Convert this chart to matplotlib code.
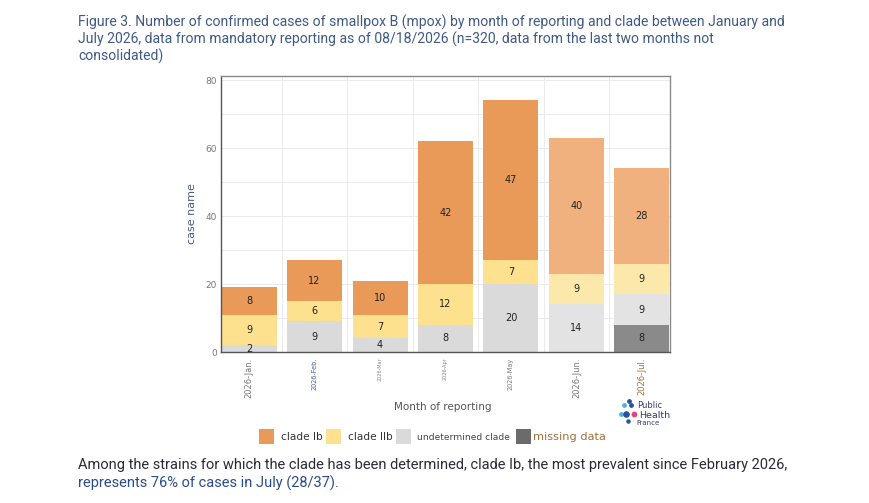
import matplotlib.pyplot as plt
from matplotlib.patches import Rectangle

W, H = 870, 503

months = ["2026-Jan.", "2026-Feb.", "2026-Mar", "2026-Apr", "2026-May", "2026-Jun.", "2026-Jul."]
missing = [0, 0, 0, 0, 0, 0, 8]
undetermined = [2, 9, 4, 8, 20, 14, 9]
clade_iib = [9, 6, 7, 12, 7, 9, 9]
clade_ib = [8, 12, 10, 42, 47, 40, 28]

# last two months not consolidated -> lighter shades
c_ib = ["#E99A58"] * 5 + ["#F0B17F"] * 2
c_iib = ["#FDE18F"] * 5 + ["#FDE8AC"] * 2
c_und = ["#DADADA"] * 5 + ["#E3E3E3"] * 2
c_mis = ["#6B6B6B"] * 5 + ["#8A8A8A"] * 2

tick_size = [6, 4.7, 3.5, 3.5, 4.7, 6, 6]
tick_color = ["#777777", "#3D5F96", "#888888", "#888888", "#777777", "#777777", "#A0703E"]


def px(x, y):
    return x / W, 1 - y / H


fig = plt.figure(figsize=(W / 100, H / 100), dpi=100)
fig.patch.set_facecolor("white")
ax = fig.add_axes([221 / W, 1 - 352 / H, (670 - 221) / W, (352 - 76) / H])

x = list(range(len(months)))
bw = 0.84
bottom = [0] * len(x)
for vals, cols in [(missing, c_mis), (undetermined, c_und), (clade_iib, c_iib), (clade_ib, c_ib)]:
    ax.bar(x, vals, bw, bottom=bottom, color=cols, zorder=2, linewidth=0)
    for i, v in enumerate(vals):
        if v:
            ax.text(i, bottom[i] + v / 2, str(v), ha="center", va="center",
                    fontsize=7, color="#222222", zorder=3)
    bottom = [b + v for b, v in zip(bottom, vals)]

ax.set_xlim(-0.43, 6.43)
ax.set_ylim(0, 81.2)
ax.set_yticks([0, 20, 40, 60, 80])
ax.set_yticks([10, 30, 50, 70], minor=True)
ax.grid(axis="y", which="both", color="#EBEBEB", lw=0.7, zorder=0)
for k in range(6):
    ax.axvline(k + 0.5, color="#EBEBEB", lw=0.7, zorder=0)
ax.tick_params(axis="y", labelsize=6.5, labelcolor="#777777", length=0, pad=3)
ax.tick_params(axis="y", which="minor", length=0)
ax.set_xticks(x)
ax.set_xticklabels(months, rotation=90)
ax.tick_params(axis="x", length=0, pad=4)
for lab, s, c in zip(ax.get_xticklabels(), tick_size, tick_color):
    lab.set_fontsize(s)
    lab.set_color(c)
for sp in ax.spines.values():
    sp.set_color("#8A8A8A")
    sp.set_linewidth(1.0)
ax.spines["left"].set_color("#555555")
ax.spines["bottom"].set_color("#555555")
ax.set_ylabel("case name", fontsize=8, color="#4A5B7C", labelpad=6)

# title
title_col = "#3F5A85"
fig.text(*px(78, 22), "Figure 3. Number of confirmed cases of smallpox B (mpox) by month of reporting and clade between January and",
         fontsize=10.05, color=title_col, va="center", family="Roboto")
fig.text(*px(78, 39), "July 2026, data from mandatory reporting as of 08/18/2026 (n=320, data from the last two months not",
         fontsize=10.05, color=title_col, va="center", family="Roboto")
fig.text(*px(78, 56), "consolidated)", fontsize=10.05, color=title_col, va="center", family="Roboto")

fig.text(*px(443, 407), "Month of reporting", fontsize=7.5, color="#555555", ha="center", va="center")

# legend
leg = [(259, "#E99A58", 281, "clade Ib", 7.6, "#333333"),
       (326, "#FDE18F", 348, "clade IIb", 7.6, "#333333"),
       (396, "#DADADA", 417, "undetermined clade", 6.6, "#444444"),
       (516, "#6B6B6B", 533, "missing data", 8.2, "#A0703E")]
for x0, col, tx, lab, fs, tc in leg:
    fig.patches.append(Rectangle(px(x0, 444), 15 / W, 15 / H, transform=fig.transFigure,
                                 facecolor=col, edgecolor="none"))
    fig.text(*px(tx, 437.5), lab, fontsize=fs, color=tc, va="center")

# logo
dots = [(624, 405, "#4FB3D9", 6), (629, 401, "#2D4E9E", 6), (631, 405, "#2D4E9E", 6),
        (621, 414, "#4FB3D9", 6), (626, 414, "#2D4E9E", 14), (634, 414, "#E0457B", 10),
        (628, 421, "#2D4E9E", 5)]
for dx, dy, dc, ds in dots:
    fig.add_artist(plt.Line2D([dx / W], [1 - dy / H], marker="o", ms=ds ** 0.5, color=dc,
                              transform=fig.transFigure, lw=0))
fig.text(*px(637, 406), "Public", fontsize=6, color="#2D3E6E", va="center")
fig.text(*px(639, 415), "Health", fontsize=6.8, color="#2D3E6E", va="center")
fig.text(*px(636, 423), "France", fontsize=5, color="#2D3E6E", va="center")

# footer
fig.text(*px(78, 465), "Among the strains for which the clade has been determined, clade Ib, the most prevalent since February 2026,",
         fontsize=10.55, color="#2B2B3A", va="center", family="Roboto")
fig.text(*px(78, 483), "represents 76% of cases in July (28/37).",
         fontsize=10.55, color="#2B4C8C", va="center", family="Roboto")

fig.savefig("out.png", dpi=100)
